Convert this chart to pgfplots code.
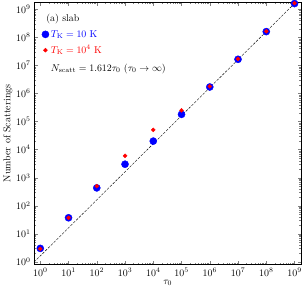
\documentclass[border=0pt]{standalone}
\usepackage{pgfplots}
\pgfplotsset{compat=1.18}
\begin{document}
\begin{tikzpicture}
\begin{axis}[
  scale only axis, width=270pt, height=265pt,
  xmode=log, ymode=log,
  xmin=0.6, xmax=1.76e9, ymin=0.79, ymax=1.8e9,
  xtick={1,10,100,1e3,1e4,1e5,1e6,1e7,1e8,1e9},
  ytick={1,10,100,1e3,1e4,1e5,1e6,1e7,1e8,1e9},
  tick align=inside, xtick pos=both, ytick pos=both,
  major tick length=4pt, minor tick length=2pt,
  xlabel={$\tau_0$}, ylabel={Number of Scatterings},
  xlabel style={yshift=3pt}, ylabel style={yshift=-3pt},
  clip=false,
  legend style={draw=none, fill=none, at={(rel axis cs:0.025,0.905)}, anchor=north west, row sep=3pt, inner sep=1pt},
  legend cell align=left,
]
\addplot[black, thin, dash pattern=on 2.6pt off 1.4pt, forget plot] coordinates {(0.6,0.967) (1.117e9,1.8e9)};
\addplot[only marks, mark=*, mark size=3.6pt, blue, mark options={draw=blue, fill=blue}] coordinates {
(1,3) (10,37) (100,430) (1000,3000) (1e4,2e4) (1e5,1.8e5) (1e6,1.7e6) (1e7,1.65e7) (1e8,1.6e8) (1e9,1.6e9)};
\addlegendentry{\textcolor{blue}{$T_{\rm K}=10$ K}}
\addplot[only marks, mark=*, mark size=2pt, red, mark options={draw=red, fill=red}] coordinates {
(1,2.9) (10,37) (100,500) (1000,6000) (1e4,5e4) (1e5,2.5e5) (1e6,1.8e6) (1e7,1.7e7) (1e8,1.65e8) (1e9,1.65e9)};
\addlegendentry{\textcolor{red}{$T_{\rm K}=10^4$ K}}
\node[anchor=west] at (rel axis cs:0.033,0.936) {(a) slab};
\node[anchor=west] at (rel axis cs:0.05,0.747) {$N_{\rm scatt}=1.612\tau_0$ $(\tau_0\to\infty)$};
\end{axis}
\end{tikzpicture}
\end{document}
